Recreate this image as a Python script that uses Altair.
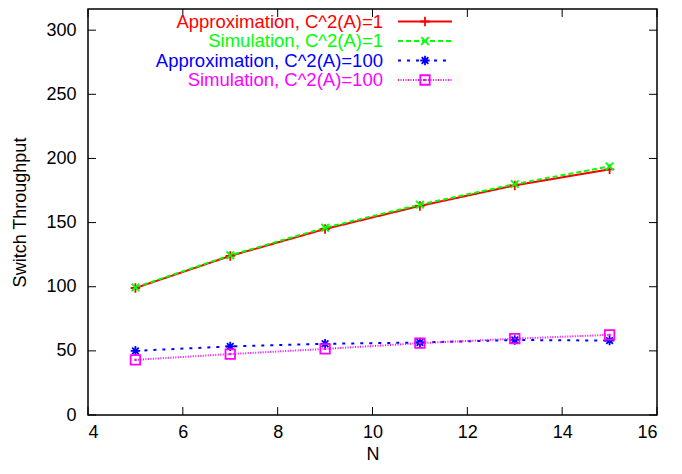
import altair as alt
import pandas as pd

N = [5, 7, 9, 11, 13, 15]
approx_c1 = [99, 124, 145, 163, 179, 191.5]
sim_c1 = [99.5, 124.5, 146, 164, 180, 193.8]
approx_c100 = [50, 53.5, 55.5, 56.5, 58.5, 58]
sim_c100 = [43, 47.5, 51.5, 56, 59.5, 62.5]

names = ["Approximation, C^2(A)=1", "Simulation, C^2(A)=1",
         "Approximation, C^2(A)=100", "Simulation, C^2(A)=100"]
colors = ["#ff0000", "#00ff00", "#0000ff", "#ff00ff"]
dashes = [[1, 0], [5, 3], [3, 6], [1, 1.5]]
widths = [2, 2, 2.5, 2]
shapes = ["M-1,0L1,0M0,-1L0,1",
          "M-0.8,-0.8L0.8,0.8M-0.8,0.8L0.8,-0.8",
          "M-1,0L1,0M0,-1L0,1M-0.7,-0.7L0.7,0.7M-0.7,0.7L0.7,-0.7",
          "square"]
x_ticks = [4, 6, 8, 10, 12, 14, 16]
y_ticks = [0, 50, 100, 150, 200, 250, 300]

W, H = 569, 406
FONT = "Liberation Sans"

rows = []
for name, vals in zip(names, [approx_c1, sim_c1, approx_c100, sim_c100]):
    for n, v in zip(N, vals):
        rows.append({"series": name, "N": n, "value": v})
df = pd.DataFrame(rows)
leg = pd.DataFrame({"series": names})
xt = pd.DataFrame({"v": x_ticks})
yt = pd.DataFrame({"v": y_ticks})

xscale = alt.Scale(domain=[4, 16], nice=False, zero=False)
yscale = alt.Scale(domain=[0, 316.5], nice=False)
cscale = alt.Scale(domain=names, range=colors)
dscale = alt.Scale(domain=names, range=dashes)
wscale = alt.Scale(domain=names, range=widths)
sscale = alt.Scale(domain=names, range=shapes)

xaxis = alt.Axis(values=x_ticks, ticks=False, tickSize=0, domain=False, grid=False,
                 labelFontSize=18, labelFont=FONT, labelColor="#000", labelPadding=8,
                 title="N", titleFontSize=18, titleFont=FONT, titleFontWeight="normal",
                 titleColor="#000", titlePadding=4)
yaxis = alt.Axis(values=y_ticks, ticks=False, tickSize=0, domain=False, grid=False,
                 labelFontSize=18, labelFont=FONT, labelColor="#000", labelPadding=12,
                 title="Switch Throughput", titleFontSize=18, titleFont=FONT,
                 titleFontWeight="normal", titleColor="#000", titlePadding=16)

base = alt.Chart(df)
lines = base.mark_line(strokeCap="butt").encode(
    x=alt.X("N:Q", scale=xscale, axis=xaxis),
    y=alt.Y("value:Q", scale=yscale, axis=yaxis),
    color=alt.Color("series:N", scale=cscale, legend=None),
    strokeDash=alt.StrokeDash("series:N", scale=dscale, legend=None),
    size=alt.Size("series:N", scale=wscale, legend=None),
    order=alt.value(0),
)
points = base.mark_point(filled=False, strokeWidth=1.8, opacity=1).encode(
    x=alt.X("N:Q", scale=xscale),
    y=alt.Y("value:Q", scale=yscale),
    color=alt.Color("series:N", scale=cscale, legend=None),
    shape=alt.Shape("series:N", scale=sscale, legend=None),
    size=alt.value(90),
)
dots = base.transform_filter(alt.datum.series == names[3]).mark_point(
    filled=True, shape="square", size=5, opacity=1, color=colors[3]
).encode(
    x=alt.X("N:Q", scale=xscale),
    y=alt.Y("value:Q", scale=yscale),
)

tick_l = alt.Chart(yt).mark_rule(color="#000", strokeWidth=1).encode(
    y=alt.Y("v:Q", scale=yscale), x=alt.value(0), x2=alt.value(8))
tick_r = alt.Chart(yt).mark_rule(color="#000", strokeWidth=1).encode(
    y=alt.Y("v:Q", scale=yscale), x=alt.value(W - 8), x2=alt.value(W))
tick_b = alt.Chart(xt).mark_rule(color="#000", strokeWidth=1).encode(
    x=alt.X("v:Q", scale=xscale), y=alt.value(H - 8), y2=alt.value(H))
tick_t = alt.Chart(xt).mark_rule(color="#000", strokeWidth=1).encode(
    x=alt.X("v:Q", scale=xscale), y=alt.value(0), y2=alt.value(8))

main = alt.layer(tick_l, tick_r, tick_b, tick_t, lines, points, dots)

lyscale = alt.Scale(type="point", domain=names, range=[12.5, 71], padding=0)
lbase = alt.Chart(leg)
ltext = lbase.mark_text(align="right", baseline="middle", fontSize=18.5, font=FONT).encode(
    x=alt.value(295),
    y=alt.Y("series:N", scale=lyscale, axis=None),
    text="series:N",
    color=alt.Color("series:N", scale=cscale, legend=None),
)
lline = lbase.mark_rule(strokeCap="butt").encode(
    x=alt.value(310), x2=alt.value(364),
    y=alt.Y("series:N", scale=lyscale, axis=None),
    color=alt.Color("series:N", scale=cscale, legend=None),
    strokeDash=alt.StrokeDash("series:N", scale=dscale, legend=None),
    size=alt.Size("series:N", scale=wscale, legend=None),
)
lpoint = lbase.mark_point(filled=False, strokeWidth=1.8, opacity=1).encode(
    x=alt.value(337),
    y=alt.Y("series:N", scale=lyscale, axis=None),
    color=alt.Color("series:N", scale=cscale, legend=None),
    shape=alt.Shape("series:N", scale=sscale, legend=None),
    size=alt.value(90),
)
ldot = lbase.transform_filter(alt.datum.series == names[3]).mark_point(
    filled=True, shape="square", size=5, opacity=1, color=colors[3]
).encode(
    x=alt.value(337),
    y=alt.Y("series:N", scale=lyscale, axis=None),
)
legend = alt.layer(lline, lpoint, ldot, ltext)

chart = alt.layer(main, legend).resolve_scale(y="independent").properties(
    width=W, height=H,
    autosize=alt.AutoSizeParams(type="none"),
    padding={"left": 80, "top": 1, "right": 17, "bottom": 51},
    background="white",
).configure_view(stroke="#000", strokeWidth=1.5)

chart.save("out.html", embed_options={"renderer": "svg", "actions": False})
